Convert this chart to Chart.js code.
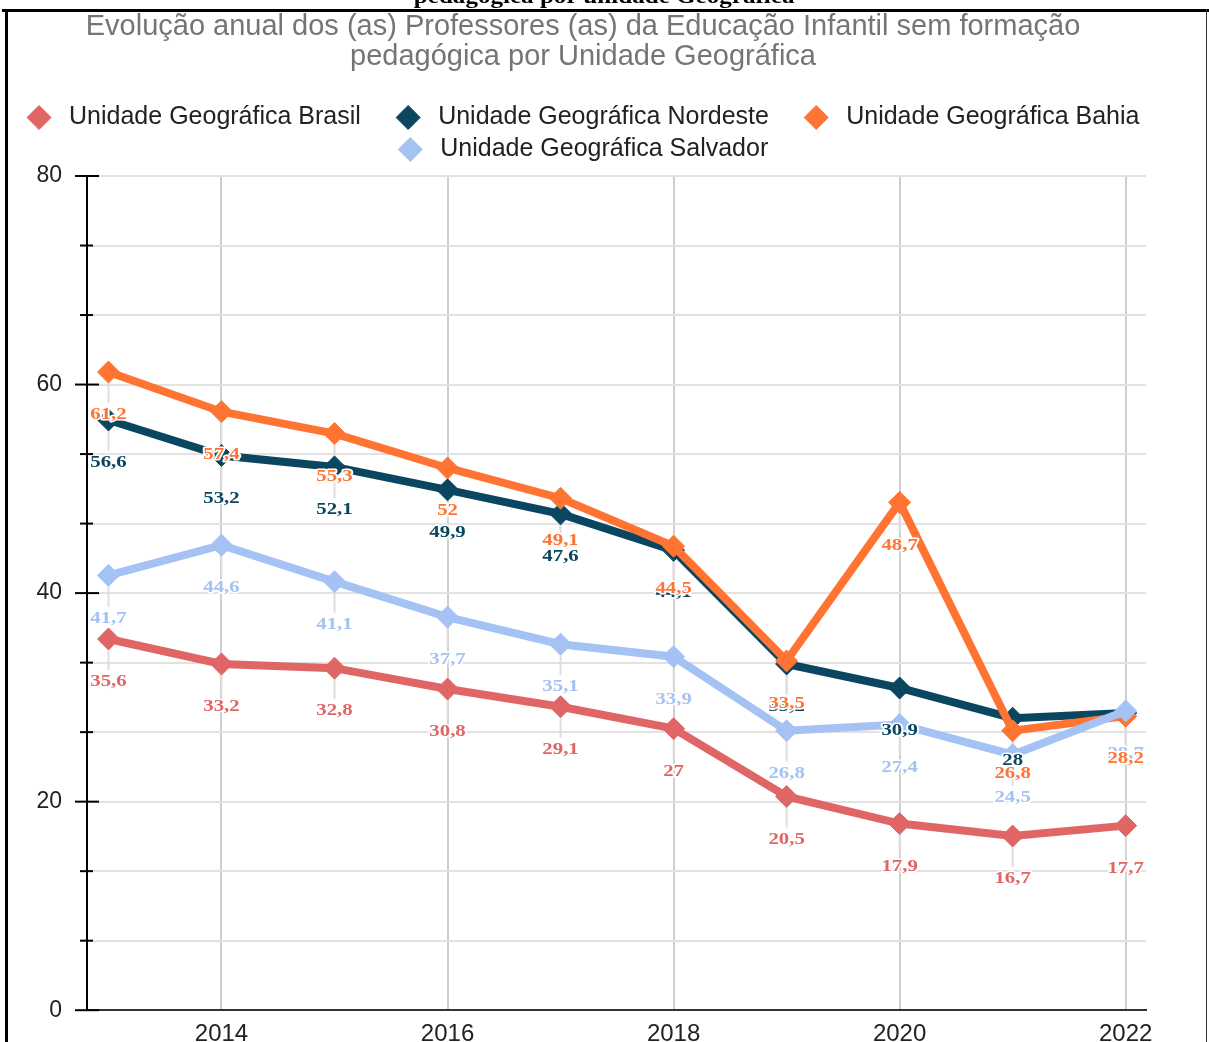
<!DOCTYPE html>
<html>
<head>
<meta charset="utf-8">
<script src="https://cdn.jsdelivr.net/npm/chart.js@4.4.1/dist/chart.umd.min.js"></script>
<style>
  html, body { margin: 0; padding: 0; background: #fff; overflow: hidden; }
  .page { position: relative; width: 1209px; height: 1042px; overflow: hidden; }
  .page canvas { position: absolute; left: -21px; top: 0; }
  .cap {
    position: absolute; left: 0; top: -17px; width: 1209px; text-align: center;
    font: bold 22px "Liberation Serif", serif; color: #000;
    transform: scaleX(1.14); transform-origin: 607px 0;
  }
  .rule { position: absolute; background: #000; }
</style>
</head>
<body>
<div class="page">
  <canvas class="myChart" width="1208" height="1059"></canvas>
  <div class="cap">pedagógica por unidade Geográfica</div>
  <div class="rule" style="left:2px;top:9px;width:1207px;height:3px"></div>
  <div class="rule" style="left:5px;top:9px;width:3px;height:1040px"></div>
  <div class="rule" style="left:1206px;top:9px;width:1px;height:1040px;background:#333"></div>
</div>
<script>
const years = [2013, 2014, 2015, 2016, 2017, 2018, 2019, 2020, 2021, 2022];
const brasil = [35.6, 33.2, 32.8, 30.8, 29.1, 27, 20.5, 17.9, 16.7, 17.7];
const nordeste = [56.6, 53.2, 52.1, 49.9, 47.6, 44.1, 33.2, 30.9, 28, 28.5];
const bahia = [61.2, 57.4, 55.3, 52, 49.1, 44.5, 33.5, 48.7, 26.8, 28.2];
const salvador = [41.7, 44.6, 41.1, 37.7, 35.1, 33.9, 26.8, 27.4, 24.5, 28.7];
const xTicks = [2014, 2016, 2018, 2020, 2022];
const yLabels = [0, 20, 40, 60, 80];

const titleLines = [
  "Evolução anual dos (as) Professores (as) da Educação Infantil sem formação",
  "pedagógica por Unidade Geográfica",
];

const sans = "'Liberation Sans', Arial, sans-serif";

function serie(label, values, color, order) {
  return {
    label: label,
    data: years.map((y, i) => ({ x: y, y: values[i] })),
    borderColor: color,
    backgroundColor: color,
    pointBackgroundColor: color,
    pointBorderColor: color,
    borderWidth: 8,
    pointStyle: "rectRot",
    pointRadius: 11,
    pointBorderWidth: 1,
    tension: 0,
    order: order,
  };
}

// leader lines under the marks, value labels on top
const valueLabels = {
  id: "valueLabels",
  beforeDatasetsDraw(chart) {
    const c = chart.ctx;
    c.save();
    c.strokeStyle = "#dedede";
    c.lineWidth = 2;
    chart.data.datasets.forEach((ds, d) => {
      chart.getDatasetMeta(d).data.forEach((pt) => {
        c.beginPath();
        c.moveTo(pt.x, pt.y + 11);
        c.lineTo(pt.x, pt.y + 31);
        c.stroke();
      });
    });
    c.restore();
  },
  afterDatasetsDraw(chart) {
    const c = chart.ctx;
    [0, 1, 3, 2].forEach((d) => {
      const ds = chart.data.datasets[d];
      chart.getDatasetMeta(d).data.forEach((pt, i) => {
        const txt = String(ds.data[i].y).replace(".", ",");
        c.save();
        c.translate(pt.x, pt.y + 43);
        c.scale(1.3, 1);
        c.font = "bold 16px 'Liberation Serif', serif";
        c.textAlign = "center";
        c.textBaseline = "middle";
        c.lineJoin = "round";
        c.strokeStyle = "#fff";
        c.lineWidth = 3;
        c.strokeText(txt, 0, 0);
        c.fillStyle = ds.borderColor;
        c.fillText(txt, 0, 0);
        c.restore();
      });
    });
  },
};

// tick marks crossing the y axis
const yTickMarks = {
  id: "yTickMarks",
  afterDraw(chart) {
    const c = chart.ctx;
    const s = chart.scales.y;
    const x0 = chart.chartArea.left;
    c.save();
    c.strokeStyle = "#000";
    c.lineWidth = 2;
    s.ticks.forEach((t, k) => {
      const y = s.getPixelForValue(t.value);
      const major = k % 3 === 0;
      c.beginPath();
      c.moveTo(x0 - (major ? 12 : 7), y);
      c.lineTo(x0 + (major ? 12 : 6), y);
      c.stroke();
    });
    c.restore();
  },
};

const ctx = document.querySelector(".myChart").getContext("2d");
const myChart = new Chart(ctx, {
  type: "line",
  data: {
    datasets: [
      serie("Unidade Geográfica Brasil", brasil, "#e06666", 4),
      serie("Unidade Geográfica Nordeste", nordeste, "#0b4661", 3),
      serie("Unidade Geográfica Bahia", bahia, "#ff7433", 2),
      serie("Unidade Geográfica Salvador", salvador, "#a4c2f4", 1),
    ],
  },
  options: {
    responsive: false,
    animation: false,
    layout: { padding: 0 },
    plugins: {
      title: {
        display: true,
        text: titleLines,
        color: "#757575",
        font: { family: sans, size: 29, weight: "normal", lineHeight: "30px" },
        padding: { top: 12, bottom: 26 },
      },
      subtitle: {
        display: true,
        text: "",
        weight: 500,
        font: { size: 1, lineHeight: 1 },
        padding: { top: 0, bottom: 3 },
      },
      legend: {
        labels: {
          usePointStyle: true,
          boxHeight: 17,
          padding: 7,
          color: "#222",
          font: { family: sans, size: 25 },
          sort: (a, b) => a.datasetIndex - b.datasetIndex,
          generateLabels(chart) {
            const items = Chart.defaults.plugins.legend.labels.generateLabels(chart);
            items.forEach((it) => {
              it.text = "\u2009" + it.text + (it.datasetIndex < 2 ? "    " : "");
            });
            return items;
          },
        },
      },
      tooltip: { enabled: false },
    },
    scales: {
      x: {
        type: "linear",
        min: 2012.81,
        max: 2022.18,
        afterBuildTicks: (s) => {
          s.ticks = xTicks.map((v) => ({ value: v }));
        },
        grid: { color: "#cfcfcf", lineWidth: 2, drawTicks: false },
        border: { color: "#333", width: 2 },
        ticks: {
          padding: 10,
          color: "#222",
          font: { family: sans, size: 24 },
          callback: (v) => String(v),
        },
      },
      y: {
        min: 0,
        max: 80,
        afterBuildTicks: (s) => {
          const t = [];
          for (let k = 0; k <= 12; k++) t.push({ value: (k * 20) / 3 });
          s.ticks = t;
        },
        afterFit: (s) => {
          s.width = 108;
        },
        grid: { color: "#e2e2e2", lineWidth: 2, drawTicks: false },
        border: { color: "#000", width: 2 },
        ticks: {
          padding: 25,
          color: "#222",
          font: { family: sans, size: 23 },
          callback: (v) => {
            const hit = yLabels.find((l) => Math.abs(l - v) < 1e-6);
            return hit === undefined ? "" : String(hit);
          },
        },
      },
      // empty right margin so the plot ends where the reference does
      yRight: {
        position: "right",
        min: 0,
        max: 80,
        afterFit: (s) => {
          s.width = 41;
        },
        grid: { display: false, drawTicks: false },
        border: { display: false },
        ticks: { display: false },
      },
    },
  },
  plugins: [valueLabels, yTickMarks],
});
</script>
</body>
</html>
